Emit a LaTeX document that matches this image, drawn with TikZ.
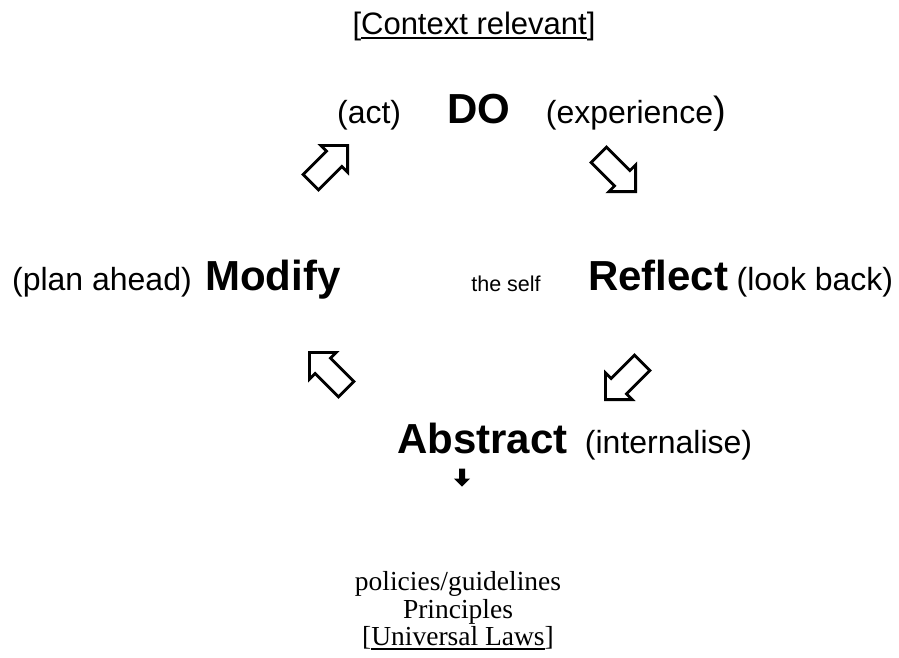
\documentclass[tikz,border=0pt]{standalone}
\usepackage{fontspec}
\setmainfont{Liberation Serif}
\setsansfont{Liberation Sans}
\usetikzlibrary{positioning,shapes.arrows}

% underline with a heavier rule
\newcommand{\ruled}[1]{\vtop{\hbox{#1}\kern2.5pt\hrule height 1.8pt}}

\tikzset{
    keyword/.style={inner sep=0pt, font=\sffamily\bfseries\fontsize{42}{46}\selectfont},
    gloss/.style={inner sep=0pt, font=\sffamily\fontsize{32}{36}\selectfont},
    footline/.style={inner sep=0pt, anchor=base, font=\rmfamily\fontsize{27.5}{30}\selectfont},
    blockarrow/.style={single arrow, draw, line width=2.8pt, inner xsep=0pt, inner ysep=9.5pt,
        minimum height=52pt, single arrow head extend=8pt, single arrow tip angle=90, anchor=tip},
}

\begin{document}
\begin{tikzpicture}[x=1pt, y=-1pt]
    \useasboundingbox (0,0) rectangle (899,657);

    % Heading
    \node[gloss, anchor=base, font=\sffamily\fontsize{31}{34}\selectfont] (context) at (474,34) {[\ruled{Context relevant}]};

    % Cycle
    \node[keyword, anchor=base] (do) at (479,123) {DO};
    \node[keyword, anchor=base west] (reflect) at (588,290) {Reflect};
    \node[keyword, anchor=base west] (abstract) at (397,453) {Abstract};
    \node[keyword, anchor=base west] (modify) at (205,290) {Modify};
    \node[inner sep=0pt, anchor=base, font=\sffamily\fontsize{21.5}{24}\selectfont] (self) at (506,291) {the self};

    % Glosses
    \node[gloss, anchor=base east] at ([xshift=-46pt]do.base west) (act) {(act)};
    \node[gloss, anchor=base west] at ([xshift=35pt]do.base east) (experience) {(experience{\fontsize{38}{38}\selectfont)}};
    \node[gloss, anchor=base west] at ([xshift=8pt]reflect.base east) (lookback) {(look back)};
    \node[gloss, anchor=base west] at ([xshift=17pt]abstract.base east) (internalise) {(internalise)};
    \node[gloss, anchor=base east] at ([xshift=-13pt]modify.base west) (plan) {(plan ahead)};

    % Block arrows
    \node[blockarrow, rotate=-45] (do2reflect) at (637,193) {};
    \node[blockarrow, rotate=-135] (reflect2abstract) at (604,401) {};
    \node[blockarrow, rotate=135] (abstract2modify) at (308,351) {};
    \node[blockarrow, rotate=45] (modify2do) at (349,144) {};

    \node[single arrow, fill, inner xsep=0pt, inner ysep=2.8pt, minimum height=18pt,
        single arrow head extend=5.2pt, single arrow tip angle=90, rotate=-90, anchor=tip]
        at ([xshift=65pt, yshift=-34pt]abstract.base west) (down) {};

    % Outcomes
    \node[footline] (policies) at (458,590) {policies/guidelines};
    \node[footline] at ([yshift=-28pt]policies.base) (principles) {Principles};
    \node[footline] at ([yshift=-27pt]principles.base) (laws) {[\ruled{Universal Laws}]};
\end{tikzpicture}
\end{document}
